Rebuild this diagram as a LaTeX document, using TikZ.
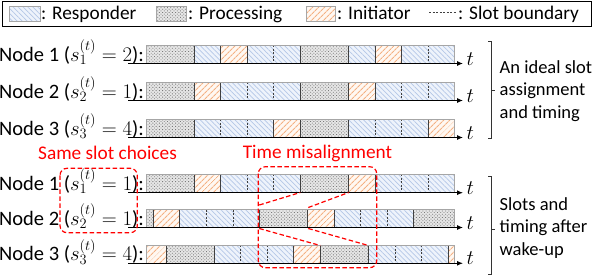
\documentclass[tikz,border=0pt]{standalone}
\usepackage{fontspec}
\setmainfont{Carlito}
\usetikzlibrary{patterns,patterns.meta,arrows.meta}
\definecolor{respbg}{HTML}{EEF3FB}
\definecolor{respln}{HTML}{B4C7E7}
\definecolor{initbg}{HTML}{FFF8F2}
\definecolor{initln}{HTML}{F4B183}
\definecolor{procbg}{HTML}{E6E6E6}
\definecolor{procdot}{HTML}{7A7A7A}
\definecolor{sepc}{HTML}{404040}
\definecolor{barol}{HTML}{A6A6A6}
\definecolor{redm}{HTML}{FF0000}
\newcommand{\tlrow}[5]{%
  \begin{scope}
    \clip (146,#2) rectangle (454.4,#3);
    \foreach \cyc in {-1,0,1,2} {
      \pgfmathsetmacro{\cst}{#4+\cyc*154.2}
      \fill[proc] (\cst,#2) rectangle ({\cst+48.2},#3);
      \foreach \j in {1,...,4} {
        \pgfmathsetmacro{\xa}{\cst+48.2+(\j-1)*26.5}
        \pgfmathsetmacro{\xb}{\xa+26.5}
        \ifnum\j=#5 \fill[init] (\xa,#2) rectangle (\xb,#3);
        \else \fill[resp] (\xa,#2) rectangle (\xb,#3); \fi
      }
      \draw[solidsep] (\cst,#2) -- (\cst,#3);
      \draw[solidsep] ({\cst+48.2},#2) -- ({\cst+48.2},#3);
      \foreach \j in {1,2,3} {
        \pgfmathsetmacro{\xa}{\cst+48.2+\j*26.5}
        \pgfmathtruncatemacro{\nxt}{\j+1}
        \ifnum\j=#5 \draw[solidsep] (\xa,#2) -- (\xa,#3);
        \else \ifnum\nxt=#5 \draw[solidsep] (\xa,#2) -- (\xa,#3);
        \else \draw[dashsep] (\xa,#2) -- (\xa,#3); \fi\fi
      }
    }
  \end{scope}
  \draw[baroutline] (146,#3) -- (146,#2) -- (454.4,#2) -- (454.4,#3);
  \coordinate (#1-s) at (128,#3);
  \coordinate (#1-e) at (463,#3);
  \draw[axis] (#1-s) -- (#1-e);
  \node[anchor=base west] (#1-t) at (466.5,#3+1.5) {$t$};
}
\begin{document}
\begin{tikzpicture}[x=1pt,y=-1pt,
  every node/.style={font=\fontsize{19.3}{23}\selectfont, inner sep=0pt},
  rowlab/.style={anchor=base east, font=\fontsize{20.5}{24}\selectfont},
  sidetext/.style={anchor=west, align=left, font=\fontsize{18.5}{22.5}\selectfont},
  resp/.style={preaction={fill=respbg}, pattern={Lines[angle=-45,distance=3.5pt,line width=0.7pt]}, pattern color=respln},
  init/.style={preaction={fill=initbg}, pattern={Lines[angle=45,distance=4pt,line width=1.1pt]}, pattern color=initln},
  proc/.style={preaction={fill=procbg}, pattern={Dots[distance=2.3pt,radius=0.6pt,angle=45]}, pattern color=procdot},
  solidsep/.style={draw=sepc, line width=0.8pt},
  dashsep/.style={draw=sepc, line width=0.6pt, dash pattern=on 2pt off 1.5pt},
  baroutline/.style={draw=barol, line width=1pt},
  axis/.style={draw=black, line width=1pt, -{Latex[length=6pt,width=5pt]}},
  redbox/.style={draw=redm, line width=1.2pt, dash pattern=on 4.5pt off 2.5pt, rounded corners=7pt},
  redline/.style={draw=redm, line width=1.2pt, dash pattern=on 4.5pt off 2.5pt},
  bracket/.style={draw=black!80, line width=0.7pt},
  redtext/.style={text=redm},
  ]
\useasboundingbox (0,0) rectangle (594,276);
% legend
\draw[black, line width=0.8pt] (2,1) rectangle (591.5,26);
\draw[resp, draw=barol, line width=0.5pt] (9,6) rectangle (40,21);
\node[anchor=base west] (lg-r) at (41,19.5) {: Responder};
\draw[proc, draw=barol, line width=0.5pt] (156,6) rectangle (186,21);
\node[anchor=base west] (lg-p) at (188,19.5) {: Processing};
\draw[init, draw=barol, line width=0.5pt] (306.7,6) rectangle (335,21);
\node[anchor=base west] (lg-i) at (337,19.5) {: Initiator};
\draw[dashsep] (429,12.5) -- (456.7,12.5);
\node[anchor=base west] (lg-s) at (458,19.5) {: Slot boundary};
% rows
\tlrow{r1}{45}{63.5}{146}{2}
\tlrow{r2}{82}{100.5}{146}{1}
\tlrow{r3}{119}{137.5}{146}{4}
\tlrow{w1}{174.3}{192.7}{146}{1}
\tlrow{w2}{209.5}{227.5}{259.3}{1}
\tlrow{w3}{245}{263.3}{166}{4}
% labels
\node[rowlab] (lab1) at (144,61) {Node 1 ($s_1^{(t)} = 2$):};
\node[rowlab] (lab2) at (144,98) {Node 2 ($s_2^{(t)} = 1$):};
\node[rowlab] (lab3) at (144,135) {Node 3 ($s_3^{(t)} = 4$):};
\node[rowlab] (lab4) at (144,190.2) {Node 1 ($s_1^{(t)} = 1$):};
\node[rowlab] (lab5) at (144,225) {Node 2 ($s_2^{(t)} = 1$):};
\node[rowlab] (lab6) at (144,260.8) {Node 3 ($s_3^{(t)} = 4$):};
% brackets
\draw[bracket] (488,41) -- (491.7,41) -- (491.7,138) -- (488,138);
\draw[bracket] (491.7,90) -- (494.5,90);
\node[sidetext] (ideal) at (499.5,91) {An ideal slot\\assignment\\and timing};
\draw[bracket] (488,176) -- (491.7,176) -- (491.7,274) -- (488,274);
\draw[bracket] (491.7,229) -- (494.5,229);
\node[sidetext] (wake) at (499.5,228) {Slots and\\timing after\\wake-up};
% red annotations
\node[redtext, anchor=base] (same) at (107.5,159) {Same slot choices};
\node[redtext, anchor=base] (mis) at (317.5,158.7) {Time misalignment};
\draw[redbox] (60,168.3) rectangle (137.3,232.7);
\draw[redbox] (258.3,166.7) rectangle (376.7,267.7);
\coordinate (a1) at (259.3,205);
\coordinate (a2) at (300.3,192.5);
\coordinate (b1) at (308.3,207.5);
\coordinate (b2) at (348.6,192.5);
\coordinate (c1) at (259.3,228.5);
\coordinate (c2) at (320.2,245.5);
\coordinate (d1) at (308.3,228.5);
\coordinate (d2) at (368.4,245.5);
\draw[redline] (a1) -- (a2);
\draw[redline] (b1) -- (b2);
\draw[redline] (c1) -- (c2);
\draw[redline] (d1) -- (d2);
\end{tikzpicture}
\end{document}
